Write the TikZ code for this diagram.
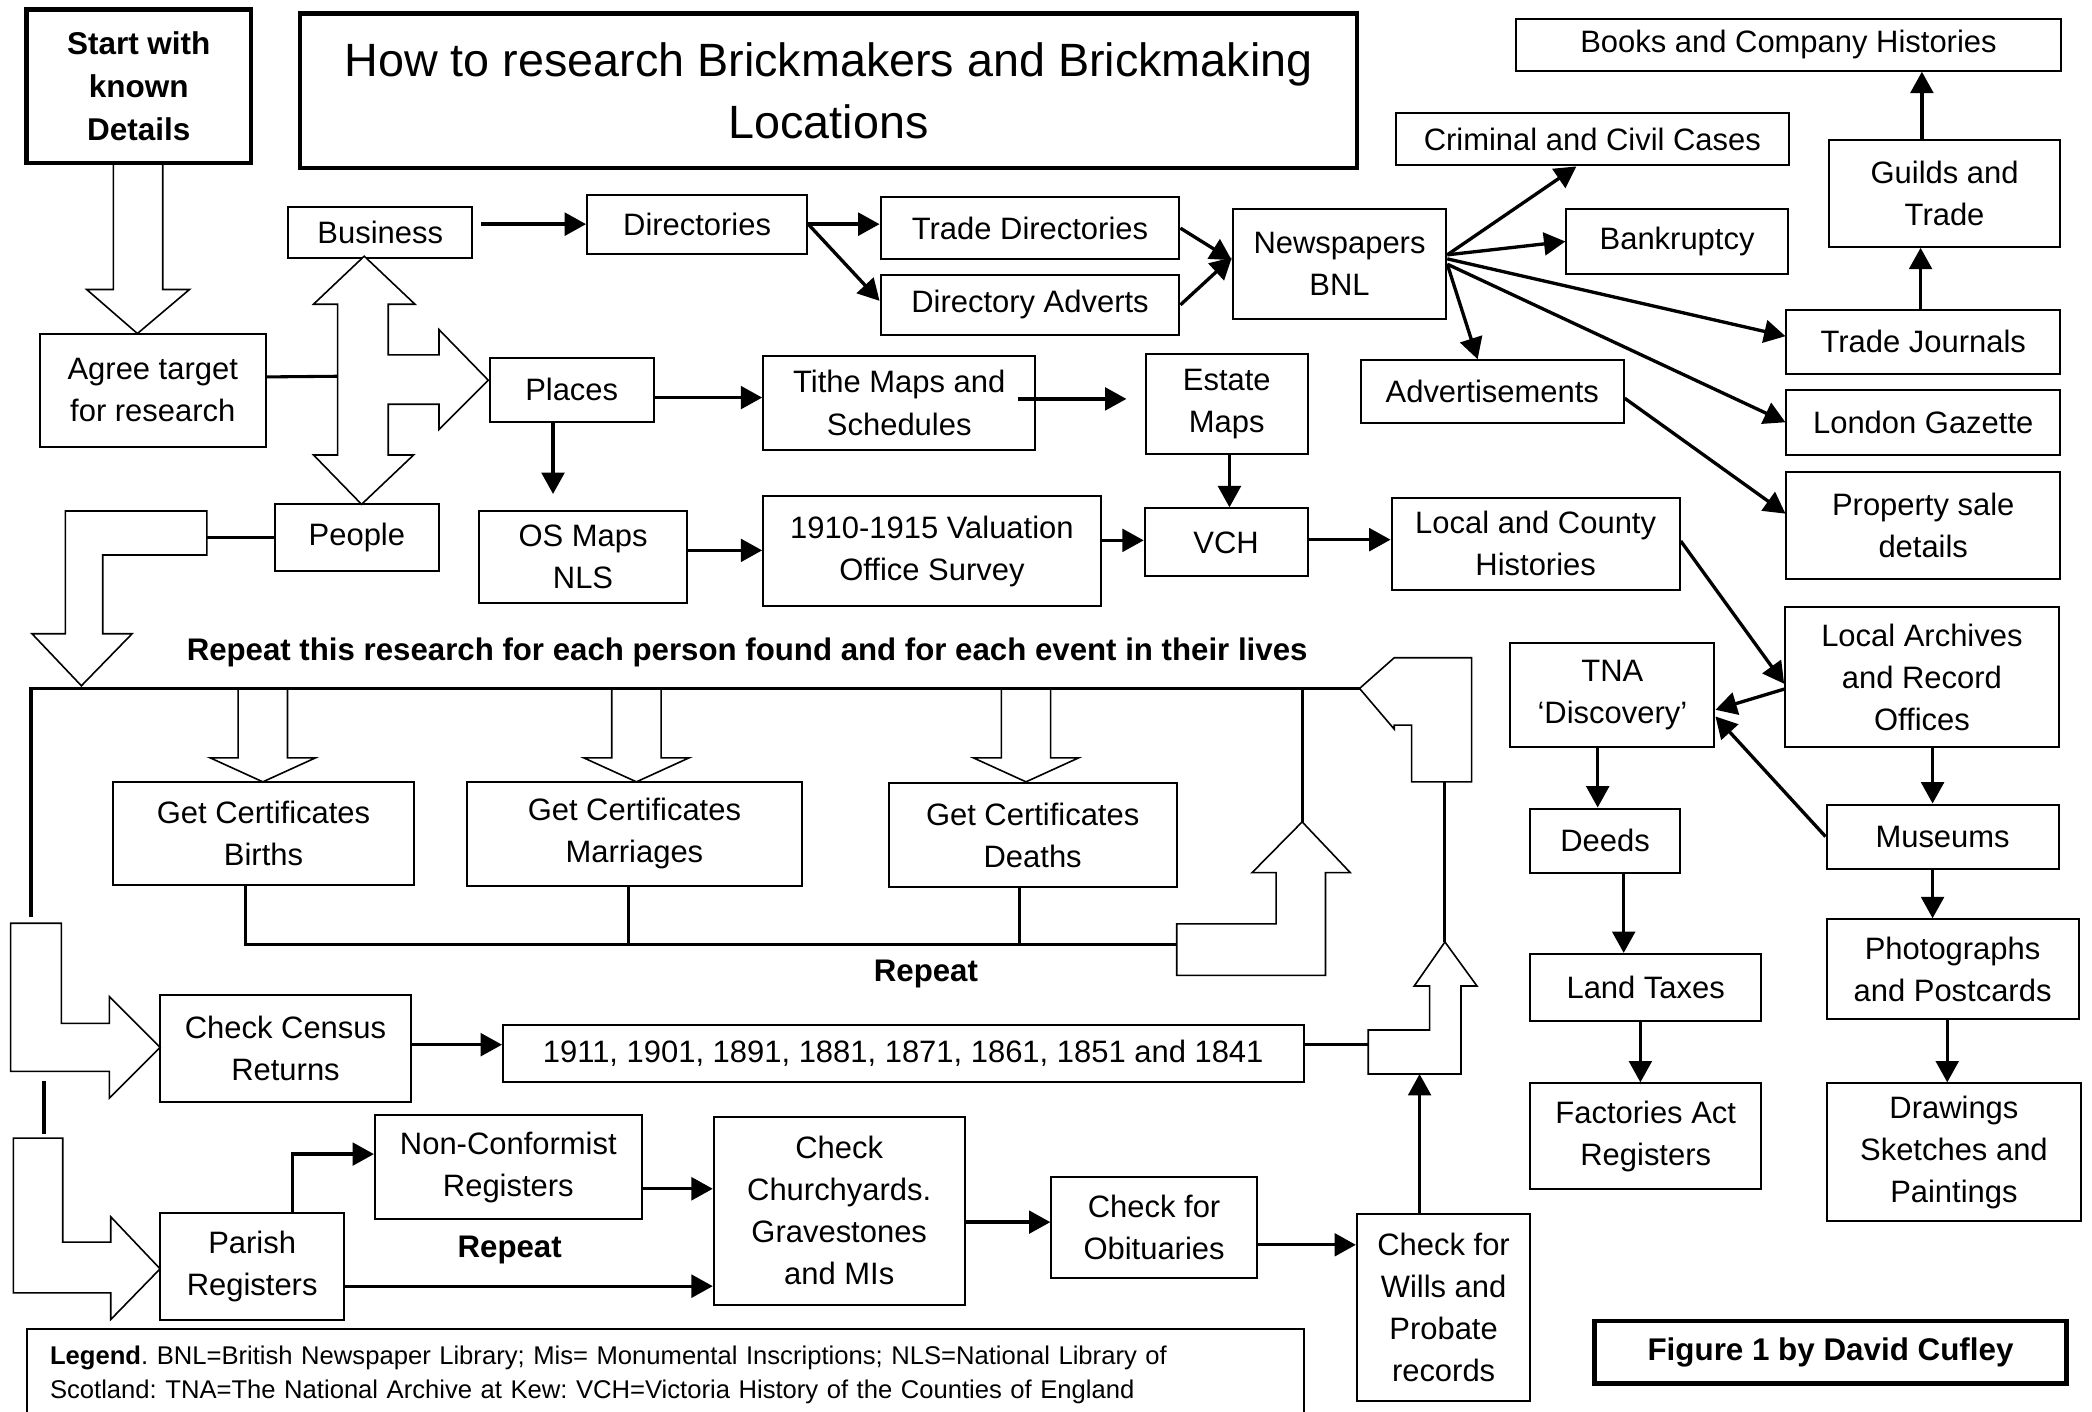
\documentclass[tikz,border=0pt]{standalone}
\usepackage{fontspec}
\setmainfont{Liberation Sans}
\usetikzlibrary{arrows.meta}
\frenchspacing

\tikzset{
  box/.style={draw, line width=1.5pt, inner sep=0pt, align=center, font=\fontsize{23.2}{31.5}\selectfont},
  thickbox/.style={box, line width=3.3pt},
  arr/.style={-{Triangle[length=16pt,width=17pt]}, line width=2.5pt},
  link/.style={line width=2.3pt},
  hollow/.style={line width=1.2pt, fill=white, line join=miter},
  note/.style={font=\bfseries\fontsize{23.4}{30}\selectfont}
}

\begin{document}
\begin{tikzpicture}[x=1pt,y=-1pt]
    \useasboundingbox (0,0) rectangle (1568,1058);
    % heading boxes
    \node[thickbox, minimum width=168pt, minimum height=115pt, font=\bfseries\fontsize{23.6}{32}\selectfont] (start) at (104,64.5) {Start with\\known\\Details};
    \node[thickbox, minimum width=792pt, minimum height=116pt, font=\fontsize{35}{46}\selectfont] (title) at (621,68) {How to research Brickmakers and Brickmaking\\Locations};

    % business branch
    \node[box, minimum width=138pt, minimum height=38pt] (business) at (285,174) {Business};
    \node[box, minimum width=165pt, minimum height=44pt] (directories) at (522.5,168) {Directories};
    \node[box, minimum width=224pt, minimum height=46pt] (tradedir) at (772,171) {Trade Directories};
    \node[box, minimum width=224pt, minimum height=45pt] (diradv) at (772,228.5) {Directory Adverts};
    \node[box, minimum width=160pt, minimum height=82pt] (news) at (1004,198) {Newspapers\\BNL};
    \node[box, minimum width=295pt, minimum height=39pt] (criminal) at (1193.5,104.5) {Criminal and Civil Cases};
    \node[box, minimum width=166pt, minimum height=48pt] (bankrupt) at (1257,181) {Bankruptcy};
    \node[box, minimum width=409pt, minimum height=39pt] (books) at (1340.5,33.5) {Books and Company Histories};
    \node[box, minimum width=173pt, minimum height=80pt] (guilds) at (1457.5,145) {Guilds and\\Trade};
    \node[box, minimum width=205pt, minimum height=48pt] (tradej) at (1441.5,256) {Trade Journals};
    \node[box, minimum width=205pt, minimum height=49pt] (gazette) at (1441.5,316.5) {London Gazette};
    \node[box, minimum width=205pt, minimum height=80pt] (property) at (1441.5,394) {Property sale\\details};
    \node[box, minimum width=197pt, minimum height=47pt] (adverts) at (1118.5,293.5) {Advertisements};

    % places branch
    \node[box, minimum width=169pt, minimum height=85pt] (agree) at (114.5,292.5) {Agree target\\for research};
    \node[box, minimum width=123pt, minimum height=48pt] (places) at (428.5,292) {Places};
    \node[box, minimum width=204pt, minimum height=70pt] (tithe) at (674,302) {Tithe Maps and\\Schedules};
    \node[box, minimum width=121pt, minimum height=75pt] (estate) at (919.5,302.5) {Estate\\Maps};
    \node[box, minimum width=156pt, minimum height=69pt] (osmaps) at (437,417.5) {OS Maps\\NLS};
    \node[box, minimum width=253pt, minimum height=82pt] (valuation) at (698.5,413) {1910-1915 Valuation\\Office Survey};
    \node[box, minimum width=122pt, minimum height=51pt] (vch) at (919,406.5) {VCH};
    \node[box, minimum width=216pt, minimum height=69pt] (localcounty) at (1151,407.5) {Local and County\\Histories};
    \node[box, minimum width=123pt, minimum height=50pt] (people) at (267.5,403) {People};

    % archives column
    \node[box, minimum width=205pt, minimum height=105pt] (archives) at (1440.5,507.5) {Local Archives\\and Record\\Offices};
    \node[box, minimum width=153pt, minimum height=78pt] (tna) at (1208.5,521) {TNA\\‘Discovery’};
    \node[box, minimum width=112pt, minimum height=48pt] (deeds) at (1203,630) {Deeds};
    \node[box, minimum width=174pt, minimum height=48pt] (museums) at (1456,627) {Museums};
    \node[box, minimum width=173pt, minimum height=50pt] (landtax) at (1233.5,740) {Land Taxes};
    \node[box, minimum width=189pt, minimum height=75pt] (photos) at (1463.5,726.5) {Photographs\\and Postcards};
    \node[box, minimum width=173pt, minimum height=79pt] (factories) at (1233.5,851.5) {Factories Act\\Registers};
    \node[box, minimum width=191pt, minimum height=103pt] (drawings) at (1464.5,863.5) {Drawings\\Sketches and\\Paintings};

    % people branch
    \node[box, minimum width=225pt, minimum height=77pt] (births) at (197.5,624.5) {Get Certificates\\Births};
    \node[box, minimum width=251pt, minimum height=78pt] (marriages) at (475.5,625) {Get Certificates\\Marriages};
    \node[box, minimum width=216pt, minimum height=78pt] (deaths) at (774,626) {Get Certificates\\Deaths};
    \node[box, minimum width=188pt, minimum height=80pt] (census) at (214,786) {Check Census\\Returns};
    \node[box, minimum width=600pt, minimum height=43pt] (years) at (677,789.5) {1911, 1901, 1891, 1881, 1871, 1861, 1851 and 1841};
    \node[box, minimum width=200pt, minimum height=78pt] (nonconf) at (381,875) {Non-Conformist\\Registers};
    \node[box, minimum width=188pt, minimum height=141pt] (church) at (629,907.5) {Check\\Churchyards.\\Gravestones\\and MIs};
    \node[box, minimum width=154pt, minimum height=76pt] (obits) at (865,920) {Check for\\Obituaries};
    \node[box, minimum width=138pt, minimum height=80pt] (parish) at (189,949) {Parish\\Registers};
    \node[box, minimum width=130pt, minimum height=140pt] (wills) at (1082,980) {Check for\\Wills and\\Probate\\records};

    \node[note] (repeatall) at (560,489) {Repeat this research for each person found and for each event in their lives};
    \node[note] (repeatcert) at (694,730) {Repeat};
    \node[note] (repeatreg) at (382,937) {Repeat};

    \node[box, minimum width=957pt, minimum height=69pt, text width=922pt, align=left, font=\fontsize{19.2}{26}\selectfont] (legend) at (498.5,1030.5) {\textbf{Legend}. BNL=British Newspaper Library; Mis= Monumental Inscriptions; NLS=National Library of\\Scotland: TNA=The National Archive at Kew: VCH=Victoria History of the Counties of England};
    \node[thickbox, minimum width=354pt, minimum height=47pt, font=\bfseries\fontsize{23.5}{30}\selectfont] (figure) at (1372,1013.5) {Figure 1 by David Cufley};

    % block arrows
    \draw[hollow] (85,123) -- (122,123) -- (122,217) -- (142,217) -- (103,250) -- (65,217) -- (85,217) -- cycle;
    \draw[hollow] (273,192) -- (311,228) -- (291,228) -- (291,266) -- (329,266) -- (329,247) -- (366,285) -- (329,322) -- (329,303) -- (291,303) -- (291,341) -- (310,341) -- (271,378) -- (235,341) -- (253,341) -- (253,228) -- (235,228) -- cycle;
    \draw[hollow] (49,383) -- (155,383) -- (155,416) -- (77,416) -- (77,475) -- (99,475) -- (61,514) -- (24,475) -- (49,475) -- cycle;
    \draw[hollow] (8,692) -- (46,692) -- (46,767) -- (82,767) -- (82,747) -- (120,785) -- (82,823) -- (82,803) -- (8,803) -- cycle;
    \draw[hollow] (10,853) -- (47,853) -- (47,931) -- (83,931) -- (83,912) -- (120,951) -- (83,989) -- (83,969) -- (10,969) -- cycle;
    \draw[link] (33,810) -- (33,850);
    \foreach \x in {197,477,769}
    \draw[hollow,shift={(\x,0)}] (-18.5,516) -- (-18.5,568) -- (-39.5,568) -- (0,586) -- (39.5,568) -- (18.5,568) -- (18.5,516);
    \draw[hollow] (882,692.5) -- (956.5,692.5) -- (956.5,654) -- (938.5,654) -- (976,616) coordinate (certtip) -- (1012,654) -- (993.5,654) -- (993.5,731) -- (882,731) -- cycle;
    \draw[hollow] (1019,516) coordinate (looptip) -- (1045,493) -- (1103,493) -- (1103,586) coordinate (loopfoot) -- (1058,586) -- (1058,543.5) -- (1045,543.5) -- (1045,546.5) -- cycle;
    \draw[hollow] (1025.5,772) -- (1071.5,772) -- (1071.5,739) -- (1060,739) -- (1083,706) coordinate (censustip) -- (1107,739) -- (1095,739) -- (1095,805) -- (1025.5,805) -- cycle;
    \coordinate (dblshaft) at (253,282);
    \coordinate (peoplebend) at (155,402);
    \coordinate (loopcorner) at (23,516);
    \coordinate (loopend) at (23,687);
    \coordinate (certbend) at (882,708);
    \coordinate (censusbend) at (1025.5,783);
    \coordinate (censusfoot) at (1064,805);

    % plain links
    \draw[link] ([yshift=10pt]agree.east) -- (dblshaft);
    \draw[link] (people.west) -- (people.west -| peoplebend);
    \draw[link, line width=2.8pt] (loopend) -- (loopcorner) -- (looptip);
    \draw[link] ([xshift=-13.5pt]births.south) |- (certbend);
    \draw[link] ([xshift=-4.5pt]marriages.south) -- ([xshift=-4.5pt]marriages.south |- certbend);
    \draw[link] ([xshift=-10pt]deaths.south) -- ([xshift=-10pt]deaths.south |- certbend);
    \draw[link] (certtip) -- (certtip |- looptip);
    \draw[link] (censustip) -- (censustip |- loopfoot);
    \draw[link] ([yshift=6.5pt]years.east) -- (censusbend);

    % arrows
    \draw[arr, shorten <=6pt] (business.east |- directories.west) -- (directories.west);
    \draw[arr] (directories.east) -- (directories.east -| tradedir.west);
    \draw[arr] (directories.east) -- ([yshift=3pt]diradv.west);
    \draw[arr] (tradedir.east) -- ([yshift=3pt]news.west);
    \draw[arr] (diradv.east) -- ([yshift=5pt]news.west);
    \draw[arr] ([yshift=7pt]news.east) -- ([xshift=-12pt]criminal.south);
    \draw[arr] ([yshift=7pt]news.east) -- (bankrupt.west);
    \draw[arr] ([yshift=4pt]news.east) -- ([yshift=4pt]tradej.west);
    \draw[arr] (news.east) -- (gazette.west);
    \draw[arr] (news.east) -- ([xshift=-11pt]adverts.north);
    \draw[arr] ([yshift=-5pt]adverts.east) -- ([yshift=9pt]property.west);
    \draw[arr] ([xshift=-2pt]tradej.north) -- ([xshift=-2pt]tradej.north |- guilds.south);
    \draw[arr] ([xshift=-17pt]guilds.north) -- ([xshift=-17pt]guilds.north |- books.south);
    \draw[arr] ([yshift=-6pt]places.east) -- ([yshift=-6pt]places.east -| tithe.west);
    \draw[arr] ([xshift=-14pt,yshift=3pt]tithe.east) -- ([xshift=-14pt,yshift=3pt]tithe.east -| estate.west);
    \draw[arr, shorten >=12pt] ([xshift=-14pt]places.south) -- ([xshift=-14pt]places.south |- osmaps.north);
    \draw[arr] ([yshift=5pt]osmaps.east) -- ([yshift=5pt]osmaps.east -| valuation.west);
    \draw[arr] ([yshift=8pt]valuation.east) -- ([yshift=8pt]valuation.east -| vch.west);
    \draw[arr] ([xshift=2pt]estate.south) -- ([xshift=2pt]estate.south |- vch.north);
    \draw[arr] ([yshift=2pt]vch.east) -- ([yshift=2pt]vch.east -| localcounty.west);
    \draw[arr] ([yshift=2pt]localcounty.east) -- ([yshift=-5pt]archives.west);
    \draw[arr] ([yshift=-9pt]archives.west) -- ([yshift=-11pt]tna.east);
    \draw[arr] (museums.west) -- ([yshift=-16pt]tna.east);
    \draw[arr] ([xshift=-11pt]tna.south) -- ([xshift=-11pt]tna.south |- deeds.north);
    \draw[arr] ([xshift=14pt]deeds.south) -- ([xshift=14pt]deeds.south |- landtax.north);
    \draw[arr] ([xshift=-4pt]landtax.south) -- ([xshift=-4pt]landtax.south |- factories.north);
    \draw[arr] ([xshift=8pt]archives.south) -- ([xshift=8pt]archives.south |- museums.north);
    \draw[arr] ([xshift=-7.5pt]museums.south) -- ([xshift=-7.5pt]museums.south |- photos.north);
    \draw[arr] ([xshift=-4pt]photos.south) -- ([xshift=-4pt]photos.south |- drawings.north);
    \draw[arr] ([yshift=3pt]census.east) -- ([yshift=3pt]census.east -| years.west);
    \draw[arr] ([xshift=30pt]parish.north) |- ([yshift=10pt]nonconf.west);
    \draw[arr] ([yshift=-16pt]nonconf.east) -- ([yshift=-16pt]nonconf.east -| church.west);
    \draw[arr] ([yshift=-15pt]parish.east) -- ([yshift=-15pt]parish.east -| church.west);
    \draw[arr] ([yshift=-8.5pt]church.east) -- ([yshift=-8.5pt]church.east -| obits.west);
    \draw[arr] ([yshift=-13pt]obits.east) -- ([yshift=-13pt]obits.east -| wills.west);
    \draw[arr] ([xshift=-18pt]wills.north) -- (censusfoot);
\end{tikzpicture}
\end{document}
